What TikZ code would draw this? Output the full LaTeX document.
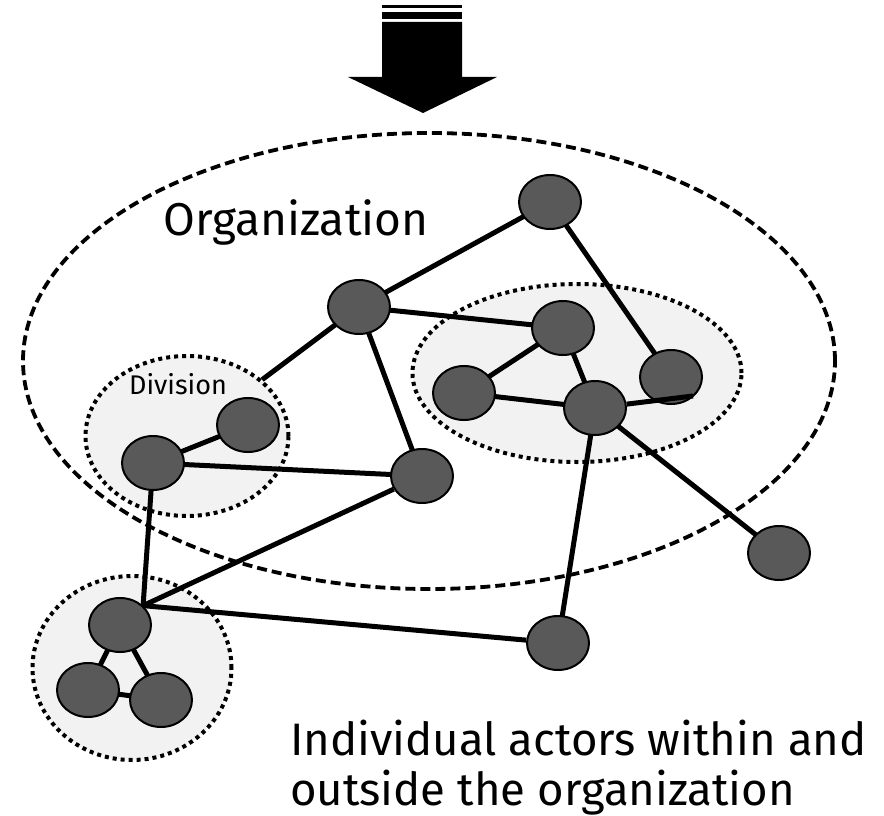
\documentclass[tikz,border=0pt]{standalone}
\usepackage{fontspec}
\setmainfont{Fira Sans}
\usetikzlibrary{shapes.geometric}

\definecolor{actorgray}{HTML}{595959}
\definecolor{groupfill}{HTML}{F2F2F2}

\tikzset{
  actor/.style={ellipse, draw, line width=2pt, fill=actorgray,
    minimum width=62pt, minimum height=54pt, inner sep=0pt},
  group/.style={ellipse, draw, fill=groupfill, line width=4pt,
    dash pattern=on 4pt off 4pt, inner sep=0pt},
  tie/.style={line width=5pt}
}

\begin{document}
\begin{tikzpicture}[x=1pt, y=-1pt]
  \useasboundingbox (0,0) rectangle (884,816);

  % arrow coming in from above
  \fill (382,5) rectangle (462,8);
  \fill (382,12) rectangle (462,19);
  \fill (382,22) -- (462,22) -- (462,77) -- (497,77) -- (423,113)
    -- (348,77) -- (382,77) -- cycle;

  % organization boundary and the groups
  \node[ellipse, draw, line width=3.8pt, dash pattern=on 10pt off 5pt,
    minimum width=812pt, minimum height=456pt] (org) at (429,361) {};
  \node[group, minimum width=329pt, minimum height=178pt] (unit) at (577,373) {};
  \node[group, minimum width=203pt, minimum height=160pt] (div) at (187,436) {};
  \node[group, minimum width=199pt, minimum height=184pt] (outside) at (132,668) {};

  \node[font=\fontsize{46}{55}\selectfont] (orglabel) at (296,222) {Organization};
  \node[font=\fontsize{27}{32}\selectfont] (divlabel) at (178,384) {Division};
  \node[anchor=north west, align=left, inner sep=0pt,
    font=\fontsize{45.5}{50}\selectfont] (caption) at (290,720)
    {Individual actors within and\\outside the organization};

  % actors
  \foreach \n/\x/\y in {a/550/202, b/359/307, c/563/328, d/464/393, e/595/408,
      f/671/377, g/248/425, h/153/463, i/422/476, j/779/553, k/558/643,
      l/120/625, m/88/690, o/161/700}
    \coordinate (p\n) at (\x,\y);

  \foreach \s/\t in {a/b, a/f, b/c, b/i, c/d, c/e, d/e, e/j, e/k, h/g, h/i,
      l/m, l/o, m/o}
    \draw[tie] (p\s) -- (p\t);
  \draw[tie] (pb) -- (div);

  \foreach \n in {a,b,c,d,e,f,g,h,i,j,k,l,m,o}
    \node[actor] (\n) at (p\n) {};

  \draw[tie] (h) -- (l.40);
  \draw[tie] (i) -- (l.40);
  \draw[tie] (k) -- (l.40);
  \coordinate (fend) at (693,396);
  \draw[tie] (e) -- (fend);
\end{tikzpicture}
\end{document}
